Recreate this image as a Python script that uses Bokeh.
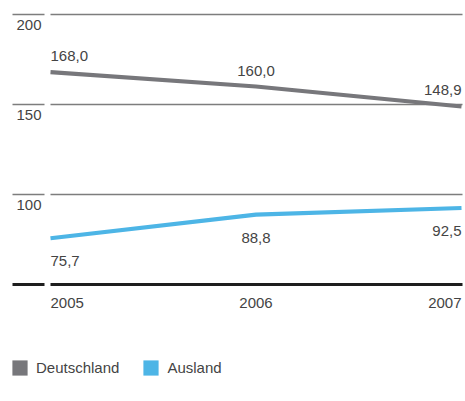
from bokeh.plotting import figure
from bokeh.models import Range1d, ColumnDataSource, Legend, LegendItem
from bokeh.core.properties import value
from bokeh.embed import file_html
from bokeh.resources import INLINE

# ---- data ----
years = [2005, 2006, 2007]
deutschland = [168.0, 160.0, 148.9]
ausland = [75.7, 88.8, 92.5]
y_ticks = [200, 150, 100]
y_base = 50
series_names = ["Deutschland", "Ausland"]

# ---- style / layout ----
W, H = 465, 401
FONT = "Liberation Sans"
TXT = "#444444"
GREY = "#77777b"
BLUE = "#4db5e6"
GRID = "#7d7d7d"
X0_PX, PPY = 50, 205.5          # px of first year, px per year
Y_BASE_PX, PPU = 284, 1.8        # px of baseline value, px per unit
NAN = float("nan")

def fmt(v):
    return f"{v:.1f}".replace(".", ",")

x_range = Range1d(years[0] - X0_PX / PPY, years[0] + (W - X0_PX) / PPY)
y_range = Range1d(y_base - (H - Y_BASE_PX) / PPU, y_base + Y_BASE_PX / PPU)

p = figure(width=W, height=H, x_range=x_range, y_range=y_range,
           output_backend="svg", toolbar_location=None,
           x_axis_location=None, y_axis_location=None,
           min_border=0, outline_line_color=None)
p.grid.visible = False
p.background_fill_color = "white"
p.border_fill_color = "white"

px = lambda n: n / PPY
gx0, gx1 = years[0], years[-1] + px(1)
sx0, sx1 = years[0] - px(38), years[0] - px(6)

# grid lines + stubs
p.segment(x0=[gx0] * len(y_ticks), x1=[gx1] * len(y_ticks), y0=y_ticks, y1=y_ticks,
          line_color=GRID, line_width=1.5)
p.segment(x0=[sx0] * len(y_ticks), x1=[sx1] * len(y_ticks), y0=y_ticks, y1=y_ticks,
          line_color=GRID, line_width=1.5)
# baseline
p.segment(x0=[gx0, sx0], x1=[gx1, sx1], y0=[y_base] * 2, y1=[y_base] * 2,
          line_color="#1e1e1e", line_width=3.2)

# tick labels
p.text(x=[years[0] - px(34)] * len(y_ticks), y=y_ticks, text=[str(t) for t in y_ticks],
       text_font=value(FONT), text_font_size="15px", text_color=TXT,
       text_align="left", text_baseline="alphabetic", y_offset=10)

# lines
p.line(years, deutschland, line_color=GREY, line_width=4.2)
p.line(years, ausland, line_color=BLUE, line_width=4.2)

aligns = ["left"] + ["center"] * (len(years) - 2) + ["right"]

# value labels
src_d = ColumnDataSource(dict(x=years, y=deutschland, t=[fmt(v) for v in deutschland], a=aligns))
p.text(x="x", y="y", text="t", text_align="a", source=src_d,
       text_font=value(FONT), text_font_size="15px", text_color=TXT,
       text_baseline="alphabetic", y_offset=-16)
src_a = ColumnDataSource(dict(x=years, y=ausland, t=[fmt(v) for v in ausland], a=aligns))
p.text(x="x", y="y", text="t", text_align="a", source=src_a,
       text_font=value(FONT), text_font_size="15px", text_color=TXT,
       text_baseline="alphabetic", y_offset=23)

# year labels
src_y = ColumnDataSource(dict(x=years, y=[y_base] * len(years), t=[str(y) for y in years], a=aligns))
p.text(x="x", y="y", text="t", text_align="a", source=src_y,
       text_font=value(FONT), text_font_size="15px", text_color=TXT,
       text_baseline="alphabetic", y_offset=18)

# legend (square swatches)
r_d = p.quad(left=[NAN], right=[NAN], top=[NAN], bottom=[NAN], fill_color=GREY, line_color=None)
r_a = p.quad(left=[NAN], right=[NAN], top=[NAN], bottom=[NAN], fill_color=BLUE, line_color=None)
legend = Legend(items=[LegendItem(label=series_names[0], renderers=[r_d]),
                       LegendItem(label=series_names[1], renderers=[r_a])],
                location=(10, 24), orientation="horizontal",
                glyph_width=19, glyph_height=19, label_height=19,
                label_standoff=7, spacing=22, padding=0, margin=0,
                border_line_color=None, background_fill_alpha=0,
                label_text_font=FONT, label_text_font_size="15px",
                label_text_color=TXT)
p.add_layout(legend, "center")

open("out.html", "w").write(file_html(p, INLINE))
